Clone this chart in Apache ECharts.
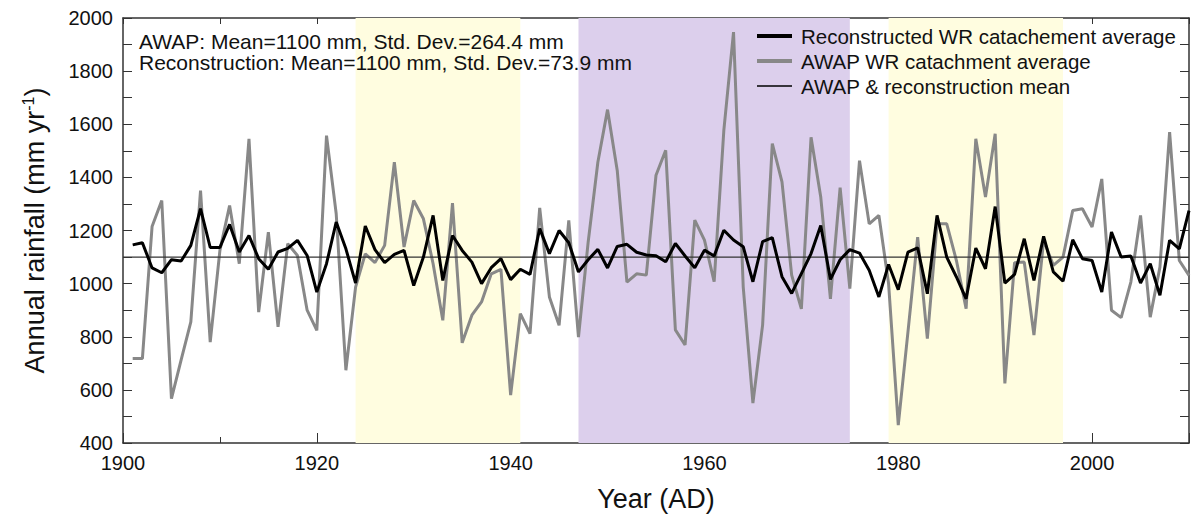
<!DOCTYPE html>
<html>
<head>
<meta charset="utf-8">
<script src="https://cdn.jsdelivr.net/npm/echarts@6/dist/echarts.min.js"></script>
<style>
html,body{margin:0;padding:0;background:#fff;}
#chart{width:1192px;height:518px;}
</style>
</head>
<body>
<div id="chart"></div>
<script>
var startYear = 1901;
var reconstructed = [
1146,1154,1059,1041,1090,1085,1144,1282,1136,1136,
1223,1119,1181,1094,1054,1119,1133,1163,1106,968,
1075,1232,1131,1002,1217,1128,1079,1110,1125,993,
1100,1257,1012,1181,1125,1081,1000,1060,1094,1015,
1054,1035,1207,1113,1200,1154,1044,1090,1129,1059,
1140,1148,1118,1108,1105,1082,1151,1104,1060,1126,
1104,1201,1164,1139,1007,1158,1173,1026,963,1038,
1113,1219,1016,1090,1128,1115,1050,950,1072,977,
1119,1135,962,1257,1100,1025,943,1134,1056,1290,
1002,1035,1169,1012,1178,1044,1009,1165,1094,1087,
968,1194,1100,1104,1002,1075,956,1163,1131,1275
];
var awap = [
718,718,1215,1313,567,713,856,1350,780,1125,
1294,1075,1545,893,1194,837,1150,1106,900,824,
1557,1263,674,987,1112,1079,1144,1457,1138,1313,
1244,1075,862,1303,777,881,931,1037,1054,580,
887,812,1285,950,843,1238,799,1156,1457,1655,
1426,1006,1037,1032,1408,1502,826,769,1239,1164,
1007,1577,1947,988,550,844,1527,1383,1032,905,
1551,1326,943,1361,981,1463,1225,1257,1000,467,
818,1175,793,1225,1225,1087,906,1545,1326,1564,
624,1079,1081,806,1163,1069,1100,1275,1282,1213,
1394,900,872,1006,1257,874,1062,1570,1087,1031
];
var meanValue = 1100;
var meanRange = [1900, 2010];
var yellowBands = [[1924, 1941], [1979, 1997]];
var purpleBands = [[1947, 1975]];
var seriesNames = ['Reconstructed WR catachement average', 'AWAP WR catachment average', 'AWAP & reconstruction mean'];
var statLines = ['AWAP: Mean=1100 mm, Std. Dev.=264.4 mm', 'Reconstruction: Mean=1100 mm, Std. Dev.=73.9 mm'];

function pairs(arr){ return arr.map(function(v,i){ return [startYear + i, v]; }); }

var FONT = 'Liberation Sans, Arial, Helvetica, sans-serif';
var chart = echarts.init(document.getElementById('chart'), null, {renderer: 'svg'});

var bandAreas = [];
yellowBands.forEach(function(b){ bandAreas.push([{xAxis: b[0], itemStyle: {color: '#FFFDE0'}}, {xAxis: b[1]}]); });
purpleBands.forEach(function(b){ bandAreas.push([{xAxis: b[0], itemStyle: {color: '#DCCFEC'}}, {xAxis: b[1]}]); });

var legendWidths = [4, 4, 1.5];
var legendColors = ['#000', '#888', '#000'];

var option = {
  animation: false,
  grid: {left: 123, right: 3, top: 18, bottom: 75, containLabel: false, outerBoundsMode: 'none'},
  xAxis: [{
    type: 'value', min: 1900, max: 2010, interval: 20, position: 'bottom',
    axisLine: {show: true, lineStyle: {color: '#333', width: 1.5}},
    axisTick: {show: true, inside: true, length: 10, lineStyle: {color: '#333', width: 1}},
    minorTick: {show: true, splitNumber: 2, length: 6, lineStyle: {color: '#333', width: 1}},
    splitLine: {show: false},
    axisLabel: {color: '#111', fontSize: 20, fontFamily: FONT, margin: 10, showMaxLabel: false,
      formatter: function(v){ return v % 20 === 0 ? String(v) : ''; }},
    name: 'Year (AD)', nameLocation: 'middle', nameGap: 42,
    nameTextStyle: {color: '#111', fontSize: 27, fontFamily: FONT}
  }, {
    type: 'value', min: 1900, max: 2010, interval: 10, position: 'top',
    axisLine: {show: true, lineStyle: {color: '#333', width: 1.5}},
    axisTick: {show: true, inside: true, length: 6, lineStyle: {color: '#333', width: 1}},
    splitLine: {show: false}, axisLabel: {show: false}
  }],
  yAxis: [{
    type: 'value', min: 400, max: 2000, interval: 100, position: 'left',
    axisLine: {show: true, lineStyle: {color: '#333', width: 1.5}},
    axisTick: {show: true, inside: true, length: 9, lineStyle: {color: '#333', width: 1}},
    splitLine: {show: false},
    axisLabel: {color: '#111', fontSize: 20, fontFamily: FONT, margin: 10,
      formatter: function(v){ return v % 200 === 0 ? String(v) : ''; }},
    name: '{a|Annual rainfall (mm yr}{s|-1}{a|)}', nameLocation: 'middle', nameGap: 73,
    nameTextStyle: {color: '#111', fontSize: 27, fontFamily: FONT,
      rich: {a: {fontSize: 27, fontFamily: FONT, color: '#111'},
             s: {fontSize: 16, fontFamily: FONT, color: '#111', verticalAlign: 'top', padding: [0, 0, 14, 0]}}}
  }, {
    type: 'value', min: 400, max: 2000, interval: 100, position: 'right',
    axisLine: {show: true, lineStyle: {color: '#333', width: 1.5}},
    axisTick: {show: true, inside: true, length: 9, lineStyle: {color: '#333', width: 1}},
    splitLine: {show: false}, axisLabel: {show: false}
  }],
  legend: {
    orient: 'vertical', left: 750, top: 20, itemWidth: 35, itemHeight: 14, itemGap: 3,
    data: seriesNames.map(function(n, i){
      return {name: n, lineStyle: {width: legendWidths[i], color: legendColors[i]}};
    }),
    itemStyle: {opacity: 0},
    textStyle: {color: '#111', fontSize: 20.5, fontFamily: FONT, lineHeight: 22, padding: [0, 0, 0, 4]}
  },
  graphic: [{
    type: 'text', left: 139, top: 31, z: 100,
    style: {text: statLines[0], font: '21px ' + FONT, fill: '#111', lineHeight: 21}
  }, {
    type: 'text', left: 139, top: 52, z: 100,
    style: {text: statLines[1], font: '21px ' + FONT, fill: '#111', lineHeight: 21}
  }],
  series: [{
    name: seriesNames[1], type: 'line', data: pairs(awap), symbol: 'none',
    lineStyle: {color: '#888', width: 3}, itemStyle: {color: '#888'}, z: 2,
    markArea: {silent: true, data: bandAreas}
  }, {
    name: seriesNames[2], type: 'line', data: meanRange.map(function(x){ return [x, meanValue]; }), symbol: 'none',
    lineStyle: {color: '#333', width: 1.2}, itemStyle: {color: '#333'}, z: 3
  }, {
    name: seriesNames[0], type: 'line', data: pairs(reconstructed), symbol: 'none',
    lineStyle: {color: '#000', width: 3}, itemStyle: {color: '#000'}, z: 4
  }]
};
chart.setOption(option);
</script>
</body>
</html>
